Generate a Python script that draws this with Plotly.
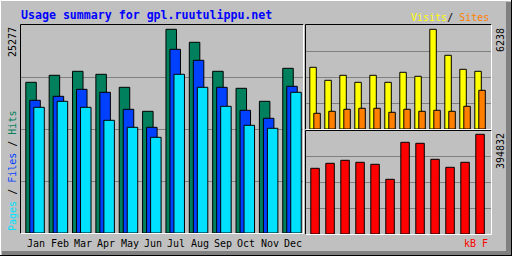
import plotly.graph_objects as go

months = ["Jan", "Feb", "Mar", "Apr", "May", "Jun", "Jul", "Aug", "Sep", "Oct", "Nov", "Dec"]
hits = [18314, 19165, 19650, 19286, 17706, 14790, 24754, 23175, 19650, 17585, 16005, 20015]
files = [16126, 16612, 17463, 17099, 15033, 12845, 22324, 20987, 17706, 14911, 13939, 17827]
pages = [15276, 16005, 15276, 13696, 12845, 11630, 19286, 17706, 15397, 13088, 12724, 17099]
visits = [3701, 2921, 3221, 2801, 3221, 2801, 3401, 3161, 5980, 4421, 3581, 3461]
sites = [942, 1062, 1182, 1242, 1242, 1002, 1182, 1062, 1122, 1062, 1362, 2321]
kbytes = [249430, 268410, 279800, 272210, 264620, 207660, 348130, 344340, 283600, 253220, 272210, 378500]
max_hits = 25277
max_visits = 6238
max_kb = 394832

W, H = 512, 256
BG = "#C0C0C0"
C_HIT, C_FILE, C_PAGE = "#00805C", "#0040FF", "#00E0FF"
C_VISIT, C_SITE, C_KB = "#FFFF00", "#FF8000", "#FF0000"
FONT = "DejaVu Sans Mono"


def fx(px):
    return px / W


def fy(py):
    return 1 - py / H


xs = list(range(12))
U1 = 23.36
U2 = 15.0

fig = go.Figure()


def bar(y, color, offset, width, xa, ya):
    fig.add_trace(go.Bar(x=xs, y=y, offset=offset, width=width, marker=dict(color=color, line=dict(color="black", width=1)),
                         xaxis=xa, yaxis=ya, hoverinfo="skip", showlegend=False))


bar(hits, C_HIT, 0, 10.5 / U1, "x", "y")
bar(files, C_FILE, 4 / U1, 10.5 / U1, "x", "y")
bar(pages, C_PAGE, 8 / U1, 10.5 / U1, "x", "y")
bar(visits, C_VISIT, 0, 6.5 / U2, "x2", "y2")
bar(sites, C_SITE, 4 / U2, 6.5 / U2, "x2", "y2")
bar(kbytes, C_KB, 1 / U2, 8.5 / U2, "x3", "y3")

m_left = -5.8 / U1
r_left = -4.8 / U2


def xax(domain, rng):
    return dict(domain=domain, range=rng, showgrid=False, zeroline=False, showticklabels=False, ticks="", showline=False, fixedrange=True)


def yax(domain, mx, anchor):
    return dict(domain=domain, range=[0, mx], tickmode="array", tickvals=[mx * 0.25, mx * 0.5, mx * 0.75],
                showgrid=True, gridcolor="#808080", gridwidth=1, zeroline=False, showticklabels=False, ticks="",
                showline=False, anchor=anchor, fixedrange=True)


fig.update_layout(
    width=W, height=H, margin=dict(l=0, r=0, t=0, b=0),
    paper_bgcolor=BG, plot_bgcolor=BG, barmode="overlay",
    xaxis=xax([fx(20), fx(304)], [m_left, m_left + 284 / U1]),
    yaxis=yax([fy(233), fy(25)], max_hits, "x"),
    xaxis2=xax([fx(305), fx(491)], [r_left, r_left + 186 / U2]),
    yaxis2=yax([fy(129), fy(25)], max_visits, "x2"),
    xaxis3=xax([fx(305), fx(491)], [r_left, r_left + 186 / U2]),
    yaxis3=yax([fy(234), fy(130)], max_kb, "x3"),
)
fig.layout.xaxis.anchor = "y"
fig.layout.xaxis2.anchor = "y2"
fig.layout.xaxis3.anchor = "y3"

shapes = []


def line(x0, y0, x1, y1, color, w=1):
    shapes.append(dict(type="line", xref="paper", yref="paper", x0=fx(x0), y0=fy(y0), x1=fx(x1), y1=fy(y1),
                       line=dict(color=color, width=w), layer="above"))


def panel(l, t, r, b):
    line(l + 0.5, t + 0.5, r + 0.5, t + 0.5, "black")
    line(l + 0.5, t + 0.5, l + 0.5, b + 0.5, "black")
    line(l + 0.5, b + 0.5, r + 0.5, b + 0.5, "white")
    line(r + 0.5, t + 0.5, r + 0.5, b + 0.5, "white")


panel(20, 24, 303, 233)
panel(305, 24, 491, 129)
panel(305, 130, 491, 234)

# outer bevel
line(0, 0.5, 512, 0.5, "white")
line(0.5, 0, 0.5, 256, "white")
shapes.append(dict(type="rect", xref="paper", yref="paper", x0=fx(2), y0=fy(255), x1=fx(511), y1=fy(251),
                   fillcolor="#808080", line=dict(width=0), layer="above"))
shapes.append(dict(type="rect", xref="paper", yref="paper", x0=fx(506), y0=fy(255), x1=fx(511), y1=fy(2),
                   fillcolor="#808080", line=dict(width=0), layer="above"))
line(511.5, 0, 511.5, 256, "black")
line(0, 255.5, 512, 255.5, "black")
fig.update_layout(shapes=shapes)

ann = []


def text(t, x, y, color="black", size=10, xanchor="left", yanchor="middle", angle=0, bold=False, xref="paper"):
    ann.append(dict(text=("<b>%s</b>" % t) if bold else t, x=x, y=y, xref=xref, yref="paper", showarrow=False,
                    xanchor=xanchor, yanchor=yanchor, textangle=angle,
                    font=dict(family=FONT, size=size, color=color)))


text("Usage summary for gpl.ruutulippu.net", fx(19), fy(15), color="#0000FF", size=11.6, bold=True)
text("<span style='color:%s'>Visits</span>/ <span style='color:%s'>Sites</span>" % (C_VISIT, C_SITE),
     fx(491), fy(17), xanchor="right")
text("<span style='color:%s'>Pages</span> / <span style='color:%s'>Files</span> / <span style='color:%s'>Hits</span>" % (C_PAGE, C_FILE, C_HIT),
     fx(12), fy(233), xanchor="center", yanchor="bottom", angle=-90)
text(str(max_hits), fx(12), fy(25), xanchor="center", yanchor="top", angle=-90)
text(str(max_visits), fx(500), fy(26), xanchor="center", yanchor="top", angle=-90)
text(str(max_kb), fx(500), fy(131), xanchor="center", yanchor="top", angle=-90)
text("kB F", fx(490), fy(243), color=C_KB, xanchor="right")
for i, m in enumerate(months):
    text(m, i + 10.4 / U1, fy(243), xanchor="center", xref="x")
fig.update_layout(annotations=ann)

fig.write_html("out.html", config={"displayModeBar": False})
